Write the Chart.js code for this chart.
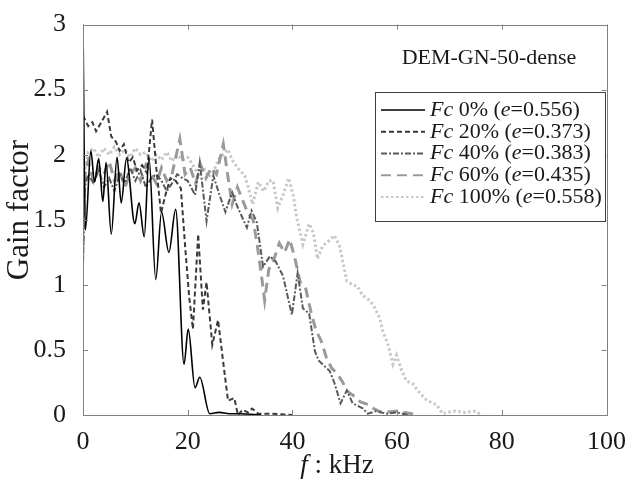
<!DOCTYPE html>
<html>
<head>
<meta charset="utf-8">
<script src="https://cdn.jsdelivr.net/npm/chart.js@4.4.0/dist/chart.umd.min.js"></script>
<style>
html, body { margin: 0; padding: 0; background: #fff; }
#wrap { width: 630px; height: 493px; }
</style>
</head>
<body>
<div id="wrap"><canvas id="gain"></canvas></div>
<script>
// frequency (kHz) and gain factor, one pair of arrays per series
var f0 = [0, 0.45, 1.5, 2.2, 3.0, 3.8, 4.4, 5.4, 6.5, 7.3, 8.3, 9.9, 10.7, 11.7, 12.6, 13.9, 15.0, 16.4, 17.7, 19.3, 20.1, 21.4, 22.3, 24.2, 26, 28, 30, 34];
var g0 = [3.0, 1.42, 2.03, 1.79, 1.97, 1.64, 1.94, 1.39, 1.98, 1.63, 1.97, 1.47, 1.63, 1.37, 1.98, 1.04, 1.56, 1.25, 1.58, 0.39, 0.66, 0.21, 0.29, 0.01, 0.02, 0.01, 0.01, 0.0];

var f20 = [0, 1.0, 1.8, 2.5, 3.5, 4.6, 5.4, 6.3, 7.0, 7.8, 8.7, 9.5, 10.3, 11.3, 12.2, 13.2, 14.0, 14.9, 15.8, 16.7, 17.7, 18.7, 19.5, 20.3, 21.0, 22.0, 22.9, 23.6, 24.7, 25.8, 26.8, 27.7, 28.9, 29.6, 30.5, 31.5, 32.3, 33.5, 36, 40];
var g20 = [2.3, 2.22, 2.25, 2.18, 2.25, 2.33, 2.14, 2.1, 2.03, 2.08, 1.94, 1.98, 1.88, 1.92, 1.86, 2.27, 1.9, 1.55, 1.7, 1.82, 1.8, 1.74, 1.3, 0.9, 0.66, 1.39, 0.81, 1.02, 0.54, 0.73, 0.4, 0.11, 0.13, 0.0, 0.04, 0.02, 0.05, 0.01, 0.01, 0.0];

var f40 = [0, 0.3, 1, 2, 3, 4, 5, 6, 7, 8, 9, 10, 11, 12, 13, 14, 15, 16, 17, 18, 19, 20, 21.4, 22.3, 23.6, 24.9, 26, 27.2, 28.5, 29.5, 31.3, 32.2, 33.2, 34.4, 35.7, 36.8, 38.2, 39.9, 41, 42, 43.2, 44.3, 45, 46, 47.1, 48, 49.2, 50.4, 51.5, 53.5, 54.4, 56, 58, 60, 62];
var g40 = [1.15, 1.75, 1.85, 1.78, 1.88, 1.75, 1.82, 1.72, 1.85, 1.78, 1.9, 1.8, 1.88, 1.75, 1.82, 1.85, 1.8, 1.72, 1.78, 1.85, 1.82, 1.8, 1.69, 1.94, 1.49, 1.84, 1.7, 1.56, 1.71, 1.6, 1.44, 1.57, 1.48, 1.14, 1.22, 1.18, 1.07, 0.77, 1.09, 0.82, 0.78, 0.49, 0.42, 0.38, 0.34, 0.25, 0.09, 0.19, 0.09, 0.05, 0.01, 0.03, 0.01, 0.02, 0.0];

var f60 = [0, 0.4, 1, 2, 3, 4, 5, 6, 7, 8, 9, 10, 11, 12, 13, 14, 15, 16, 17, 18.5, 19.5, 20.5, 21.5, 22.5, 23.5, 24.5, 25.5, 26.8, 27.8, 28.5, 29.5, 30.5, 31.5, 32.5, 33.3, 34, 34.7, 35.5, 36.5, 37.5, 38.5, 39.5, 40.5, 41.5, 42.5, 43.5, 44.5, 45.5, 46.5, 47.5, 48.5, 49.5, 50.5, 52, 53, 54.5, 55.5, 57, 60, 64];
var g60 = [1.3, 1.85, 1.95, 1.8, 1.9, 1.85, 1.95, 1.8, 1.88, 1.75, 1.85, 1.9, 1.8, 1.92, 1.85, 1.78, 1.9, 1.8, 1.85, 2.12, 1.85, 1.9, 1.78, 1.92, 1.82, 1.9, 1.85, 2.08, 1.8, 1.62, 1.75, 1.65, 1.55, 1.5, 1.3, 1.1, 0.88, 1.12, 1.2, 1.32, 1.25, 1.35, 1.2, 1.02, 0.98, 0.8, 0.65, 0.57, 0.44, 0.36, 0.32, 0.26, 0.18, 0.14, 0.1, 0.08, 0.05, 0.02, 0.03, 0.0];

var f100 = [0, 0.4, 1, 2, 3, 4, 5, 6, 7, 8, 9, 10, 11, 12, 13, 14, 15, 16, 17, 18, 19, 20, 21, 22, 23, 24, 24.9, 26, 27.7, 28.5, 29.5, 30.9, 31.5, 32.4, 33.5, 34.5, 35.5, 36.3, 37.2, 38.2, 39.3, 40.2, 40.8, 42, 43.2, 44, 44.8, 45.8, 47, 48, 49, 50.4, 51.5, 52.4, 53.4, 54.8, 55.8, 56.7, 57.3, 58.2, 59.2, 59.9, 60.8, 61.8, 63, 64.3, 65.5, 66.8, 67.5, 68.7, 69.5, 71, 73, 75, 76];
var g100 = [1.2, 1.9, 2.02, 2.05, 1.98, 2.05, 2.0, 2.06, 2.0, 2.04, 1.98, 2.05, 2.0, 2.02, 1.95, 2.0, 1.96, 2.02, 1.95, 2.0, 1.96, 1.98, 1.92, 1.85, 1.9, 1.83, 1.87, 1.97, 2.04, 1.96, 1.9, 1.84, 1.76, 1.62, 1.79, 1.72, 1.8, 1.8, 1.59, 1.69, 1.82, 1.68, 1.52, 1.31, 1.47, 1.4, 1.2, 1.3, 1.34, 1.38, 1.3, 1.03, 1.0, 0.99, 0.92, 0.88, 0.82, 0.74, 0.64, 0.55, 0.39, 0.46, 0.35, 0.26, 0.24, 0.17, 0.12, 0.09, 0.08, 0.01, 0.02, 0.03, 0.02, 0.03, 0.0];

var xTicks = [0, 20, 40, 60, 80, 100];
var yTicks = [0, 0.5, 1, 1.5, 2, 2.5, 3];

var labels = [
  [' 0% (', '=0.556)'],
  [' 20% (', '=0.373)'],
  [' 40% (', '=0.383)'],
  [' 60% (', '=0.435)'],
  [' 100% (', '=0.558)']
];

var serif = "'Liberation Serif', 'Times New Roman', serif";

function pairs(f, g) {
  var out = [];
  for (var i = 0; i < f.length && i < g.length; i++) out.push({x: f[i], y: g[i]});
  return out;
}

// draw a run of text pieces, some italic, starting at x
function runText(ctx, pieces, x, y, size) {
  for (var i = 0; i < pieces.length; i++) {
    ctx.font = (pieces[i][1] ? 'italic ' : '') + size + 'px ' + serif;
    ctx.fillText(pieces[i][0], x, y);
    x += ctx.measureText(pieces[i][0]).width;
  }
  return x;
}
function runWidth(ctx, pieces, size) {
  var w = 0;
  for (var i = 0; i < pieces.length; i++) {
    ctx.font = (pieces[i][1] ? 'italic ' : '') + size + 'px ' + serif;
    w += ctx.measureText(pieces[i][0]).width;
  }
  return w;
}

var deco = {
  id: 'deco',
  afterDraw: function(chart) {
    var ctx = chart.ctx, a = chart.chartArea, xs = chart.scales.x, ys = chart.scales.y;
    ctx.save();
    // axes box
    ctx.strokeStyle = '#808080';
    ctx.lineWidth = 1;
    ctx.setLineDash([]);
    ctx.strokeRect(Math.round(a.left) + 0.5, Math.round(a.top) + 0.5, Math.round(a.right - a.left), Math.round(a.bottom - a.top));
    // inward tick marks
    ctx.beginPath();
    xTicks.forEach(function(v) {
      var px = Math.round(xs.getPixelForValue(v)) + 0.5;
      ctx.moveTo(px, a.bottom); ctx.lineTo(px, a.bottom - 5);
      ctx.moveTo(px, a.top); ctx.lineTo(px, a.top + 5);
    });
    yTicks.forEach(function(v) {
      var py = Math.round(ys.getPixelForValue(v)) + 0.5;
      ctx.moveTo(a.left, py); ctx.lineTo(a.left + 5, py);
      ctx.moveTo(a.right, py); ctx.lineTo(a.right - 5, py);
    });
    ctx.stroke();

    ctx.fillStyle = '#1a1a1a';
    ctx.textBaseline = 'middle';
    ctx.textAlign = 'left';

    // axis titles
    var xt = [['f', true], [' : kHz', false]];
    var w = runWidth(ctx, xt, 27);
    runText(ctx, xt, 337 - w / 2, 466, 27);

    ctx.save();
    ctx.translate(20, 210);
    ctx.rotate(-Math.PI / 2);
    ctx.textAlign = 'center';
    ctx.font = '31px ' + serif;
    ctx.fillText('Gain factor', 0, 0);
    ctx.restore();

    // caption inside the axes
    ctx.textAlign = 'center';
    ctx.font = '22px ' + serif;
    ctx.fillText('DEM-GN-50-dense', 489, 58);
    ctx.textAlign = 'left';

    // legend
    var bx = 375, by = 92, bw = 230, bh = 129;
    ctx.fillStyle = '#fff';
    ctx.fillRect(bx, by, bw, bh);
    ctx.strokeStyle = '#404040';
    ctx.strokeRect(bx + 0.5, by + 0.5, bw, bh);
    chart.data.datasets.forEach(function(ds, i) {
      var ry = 110 + i * 21.75;
      ctx.save();
      ctx.strokeStyle = ds.borderColor;
      ctx.lineWidth = Math.min(ds.borderWidth, 2);
      ctx.setLineDash(ds.borderDash || []);
      ctx.beginPath();
      ctx.moveTo(381, ry); ctx.lineTo(425, ry);
      ctx.stroke();
      ctx.restore();
      ctx.fillStyle = '#1a1a1a';
      runText(ctx, [['Fc', true], [labels[i][0], false], ['e', true], [labels[i][1], false]], 430, ry, 22);
    });
    ctx.restore();
  }
};

new Chart(document.getElementById('gain'), {
  type: 'line',
  data: {
    datasets: [
      { label: 'Fc 0%', data: pairs(f0, g0), borderColor: '#000000', borderWidth: 1.6, cubicInterpolationMode: 'monotone', order: 0 },
      { label: 'Fc 20%', data: pairs(f20, g20), borderColor: '#3a3a3a', borderWidth: 2, borderDash: [5, 3], order: 1 },
      { label: 'Fc 40%', data: pairs(f40, g40), borderColor: '#5a5a5a', borderWidth: 2, borderDash: [6, 2, 2, 2], order: 2 },
      { label: 'Fc 60%', data: pairs(f60, g60), borderColor: '#9a9a9a', borderWidth: 3, borderDash: [10, 6], order: 3 },
      { label: 'Fc 100%', data: pairs(f100, g100), borderColor: '#c8c8c8', borderWidth: 3, borderDash: [2.5, 2.5], order: 4 }
    ]
  },
  options: {
    responsive: true,
    maintainAspectRatio: false,
    animation: false,
    layout: { padding: { top: 16, right: 23, left: 0, bottom: 0 } },
    elements: { point: { radius: 0 }, line: { tension: 0, fill: false } },
    plugins: { legend: { display: false }, tooltip: { enabled: false } },
    scales: {
      x: {
        type: 'linear', min: 0, max: 100,
        afterFit: function(s) { s.height = 78; },
        grid: { display: false },
        border: { display: false },
        ticks: { stepSize: 20, padding: 4, color: '#1a1a1a', maxRotation: 0, font: { family: serif, size: 26 } }
      },
      y: {
        min: 0, max: 3,
        afterFit: function(s) { s.width = 83; },
        grid: { display: false },
        border: { display: false },
        ticks: { stepSize: 0.5, padding: 9, color: '#1a1a1a', font: { family: serif, size: 26 },
          callback: function(v) { return String(v); } }
      }
    }
  },
  plugins: [deco]
});
</script>
</body>
</html>
